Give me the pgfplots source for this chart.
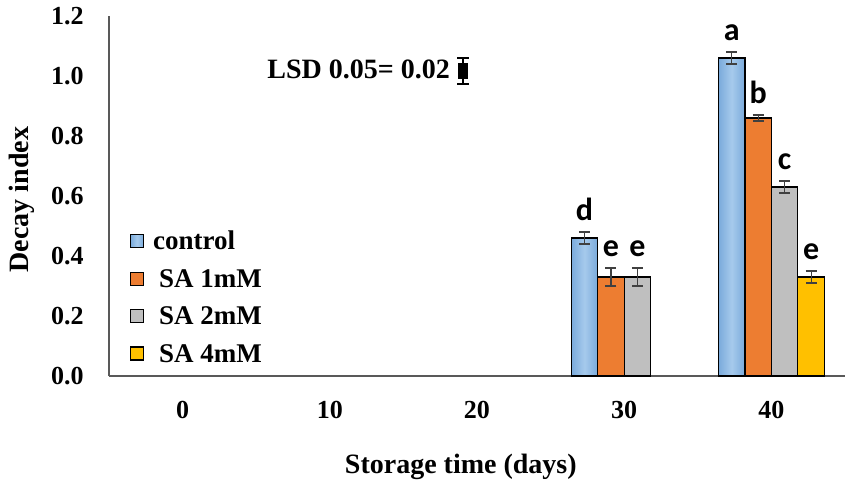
\documentclass[border=0pt]{standalone}
\usepackage{fontspec}
\setmainfont{Liberation Serif}
\newfontfamily\carl{Carlito}
\usepackage{pgfplots}
\usepackage{pgfplotstable}
\pgfplotsset{compat=1.18}

\definecolor{cblue}{HTML}{A6CAEC}
\definecolor{cblueedge}{HTML}{7AAADB}
\definecolor{corange}{HTML}{ED7D31}
\definecolor{cgray}{HTML}{BFBFBF}
\definecolor{cyellow}{HTML}{FFC000}
\definecolor{errc}{HTML}{404040}
\definecolor{axc}{HTML}{595959}

\pgfplotstableread{
x y e
3 0.46 0.02
}\controlA
\pgfplotstableread{
x y e
4 1.06 0.02
}\controlB
\pgfplotstableread{
x y e
3 0.33 0.03
4 0.86 0.01
}\saone
\pgfplotstableread{
x y e
3 0.33 0.03
4 0.63 0.02
}\satwo
\pgfplotstableread{
x y e
4 0.33 0.02
}\safour
\pgfplotstableread{
x y l
2.73 0.48 d
2.91 0.36 e
3.09 0.36 e
3.73 1.08 a
3.91 0.87 b
4.09 0.65 c
4.27 0.35 e
}\letters

\pgfplotsset{mybar/.style={ybar, bar width=0.18, bar shift=0pt, draw=black, line width=0.6pt,
  legend image code/.code={\draw[##1, line width=0.6pt] (0pt,0pt) rectangle (6.5pt,6.5pt); \path (11pt,0pt);},
  error bars/y dir=both, error bars/y explicit,
  error bars/error bar style={color=errc, line width=0.6pt},
  error bars/error mark options={rotate=90, mark size=2.75pt, color=errc, line width=0.6pt}}}

\newcommand{\legtxt}[1]{\raisebox{3.5pt}{#1}}

\begin{document}
\begin{tikzpicture}
\begin{axis}[
  scale only axis, width=368pt, height=180pt,
  xmin=-0.5, xmax=4.5, ymin=0, ymax=1.2,
  enlargelimits=false, clip=false,
  axis x line=bottom, axis y line=left,
  axis line style={-, color=axc, line width=0.75pt},
  major tick length=0pt,
  xtick={0,1,2,3,4}, xticklabels={0,10,20,30,40},
  ytick={0,0.2,0.4,0.6,0.8,1.0,1.2},
  /pgf/number format/assume math mode=true,
  yticklabel={\pgfmathprintnumber[fixed, fixed zerofill, precision=1]{\tick}},
  tick label style={font=\fontsize{13}{15}\selectfont\bfseries},
  xticklabel style={anchor=center, inner sep=0pt, yshift=-17pt},
  yticklabel style={anchor=east, inner sep=0pt, xshift=-12.5pt},
  xlabel={Storage time (days)},
  xlabel style={at={(axis description cs:0.478,-0.2528)}, anchor=center, font=\fontsize{14}{16}\selectfont\bfseries},
  ylabel={Decay index},
  ylabel style={at={(axis description cs:-0.1182,0.49)}, anchor=center, font=\fontsize{14}{16}\selectfont\bfseries},
  legend style={at={(axis description cs:0.0285,0.0194)}, anchor=south west, draw=none, fill=none,
    inner sep=0pt, outer sep=0pt, row sep=7.4pt, column sep=0pt,
    font=\fontsize{13.5}{15}\selectfont\bfseries,
    nodes={inner sep=0pt, text height=9pt, text depth=0pt}},
  legend cell align=left,
]
\coordinate (o) at (rel axis cs:0,0);
\addplot[mybar, left color=cblueedge, right color=cblueedge, middle color=cblue] table[x expr=\thisrow{x}-0.27, y=y, y error=e] {\controlA};
\addplot[mybar, forget plot, left color=cblueedge, right color=cblueedge, middle color=cblue] table[x expr=\thisrow{x}-0.27, y=y, y error=e] {\controlB};
\addplot[mybar, fill=corange] table[x expr=\thisrow{x}-0.09, y=y, y error=e] {\saone};
\addplot[mybar, fill=cgray] table[x expr=\thisrow{x}+0.09, y=y, y error=e] {\satwo};
\addplot[mybar, fill=cyellow] table[x expr=\thisrow{x}+0.27, y=y, y error=e] {\safour};
\legend{\legtxt{control}, \legtxt{\hspace{3pt}SA 1mM}, \legtxt{\hspace{3pt}SA 2mM}, \legtxt{\hspace{3pt}SA 4mM}}
\addplot[forget plot, draw=none, mark=none, point meta=explicit symbolic, nodes near coords,
  every node near coord/.append style={inner sep=0pt, yshift=5.5pt, font=\carl\bfseries\fontsize{16}{16}\selectfont, text=black}]
  table[x=x, y=y, meta=l] {\letters};
\addplot[forget plot, only marks, mark=square*, mark size=2.3pt, mark options={yscale=1.6, fill=black, draw=black},
  error bars/.cd, y dir=both, y explicit,
  error bar style={black, line width=1pt},
  error mark options={rotate=90, mark size=3pt, black, line width=1pt}]
  coordinates {(1.905,1.017) +- (0,0.043)};
\node[anchor=base west, inner sep=0pt, font=\fontsize{14}{16}\selectfont\bfseries] at (axis cs:0.573,0.993) {LSD 0.05= 0.02};
\end{axis}
\pgfresetboundingbox
\path[use as bounding box] ([shift={(-54.5pt,-55.5pt)}]o) rectangle ([shift={(371pt,188pt)}]o);
\end{tikzpicture}
\end{document}
